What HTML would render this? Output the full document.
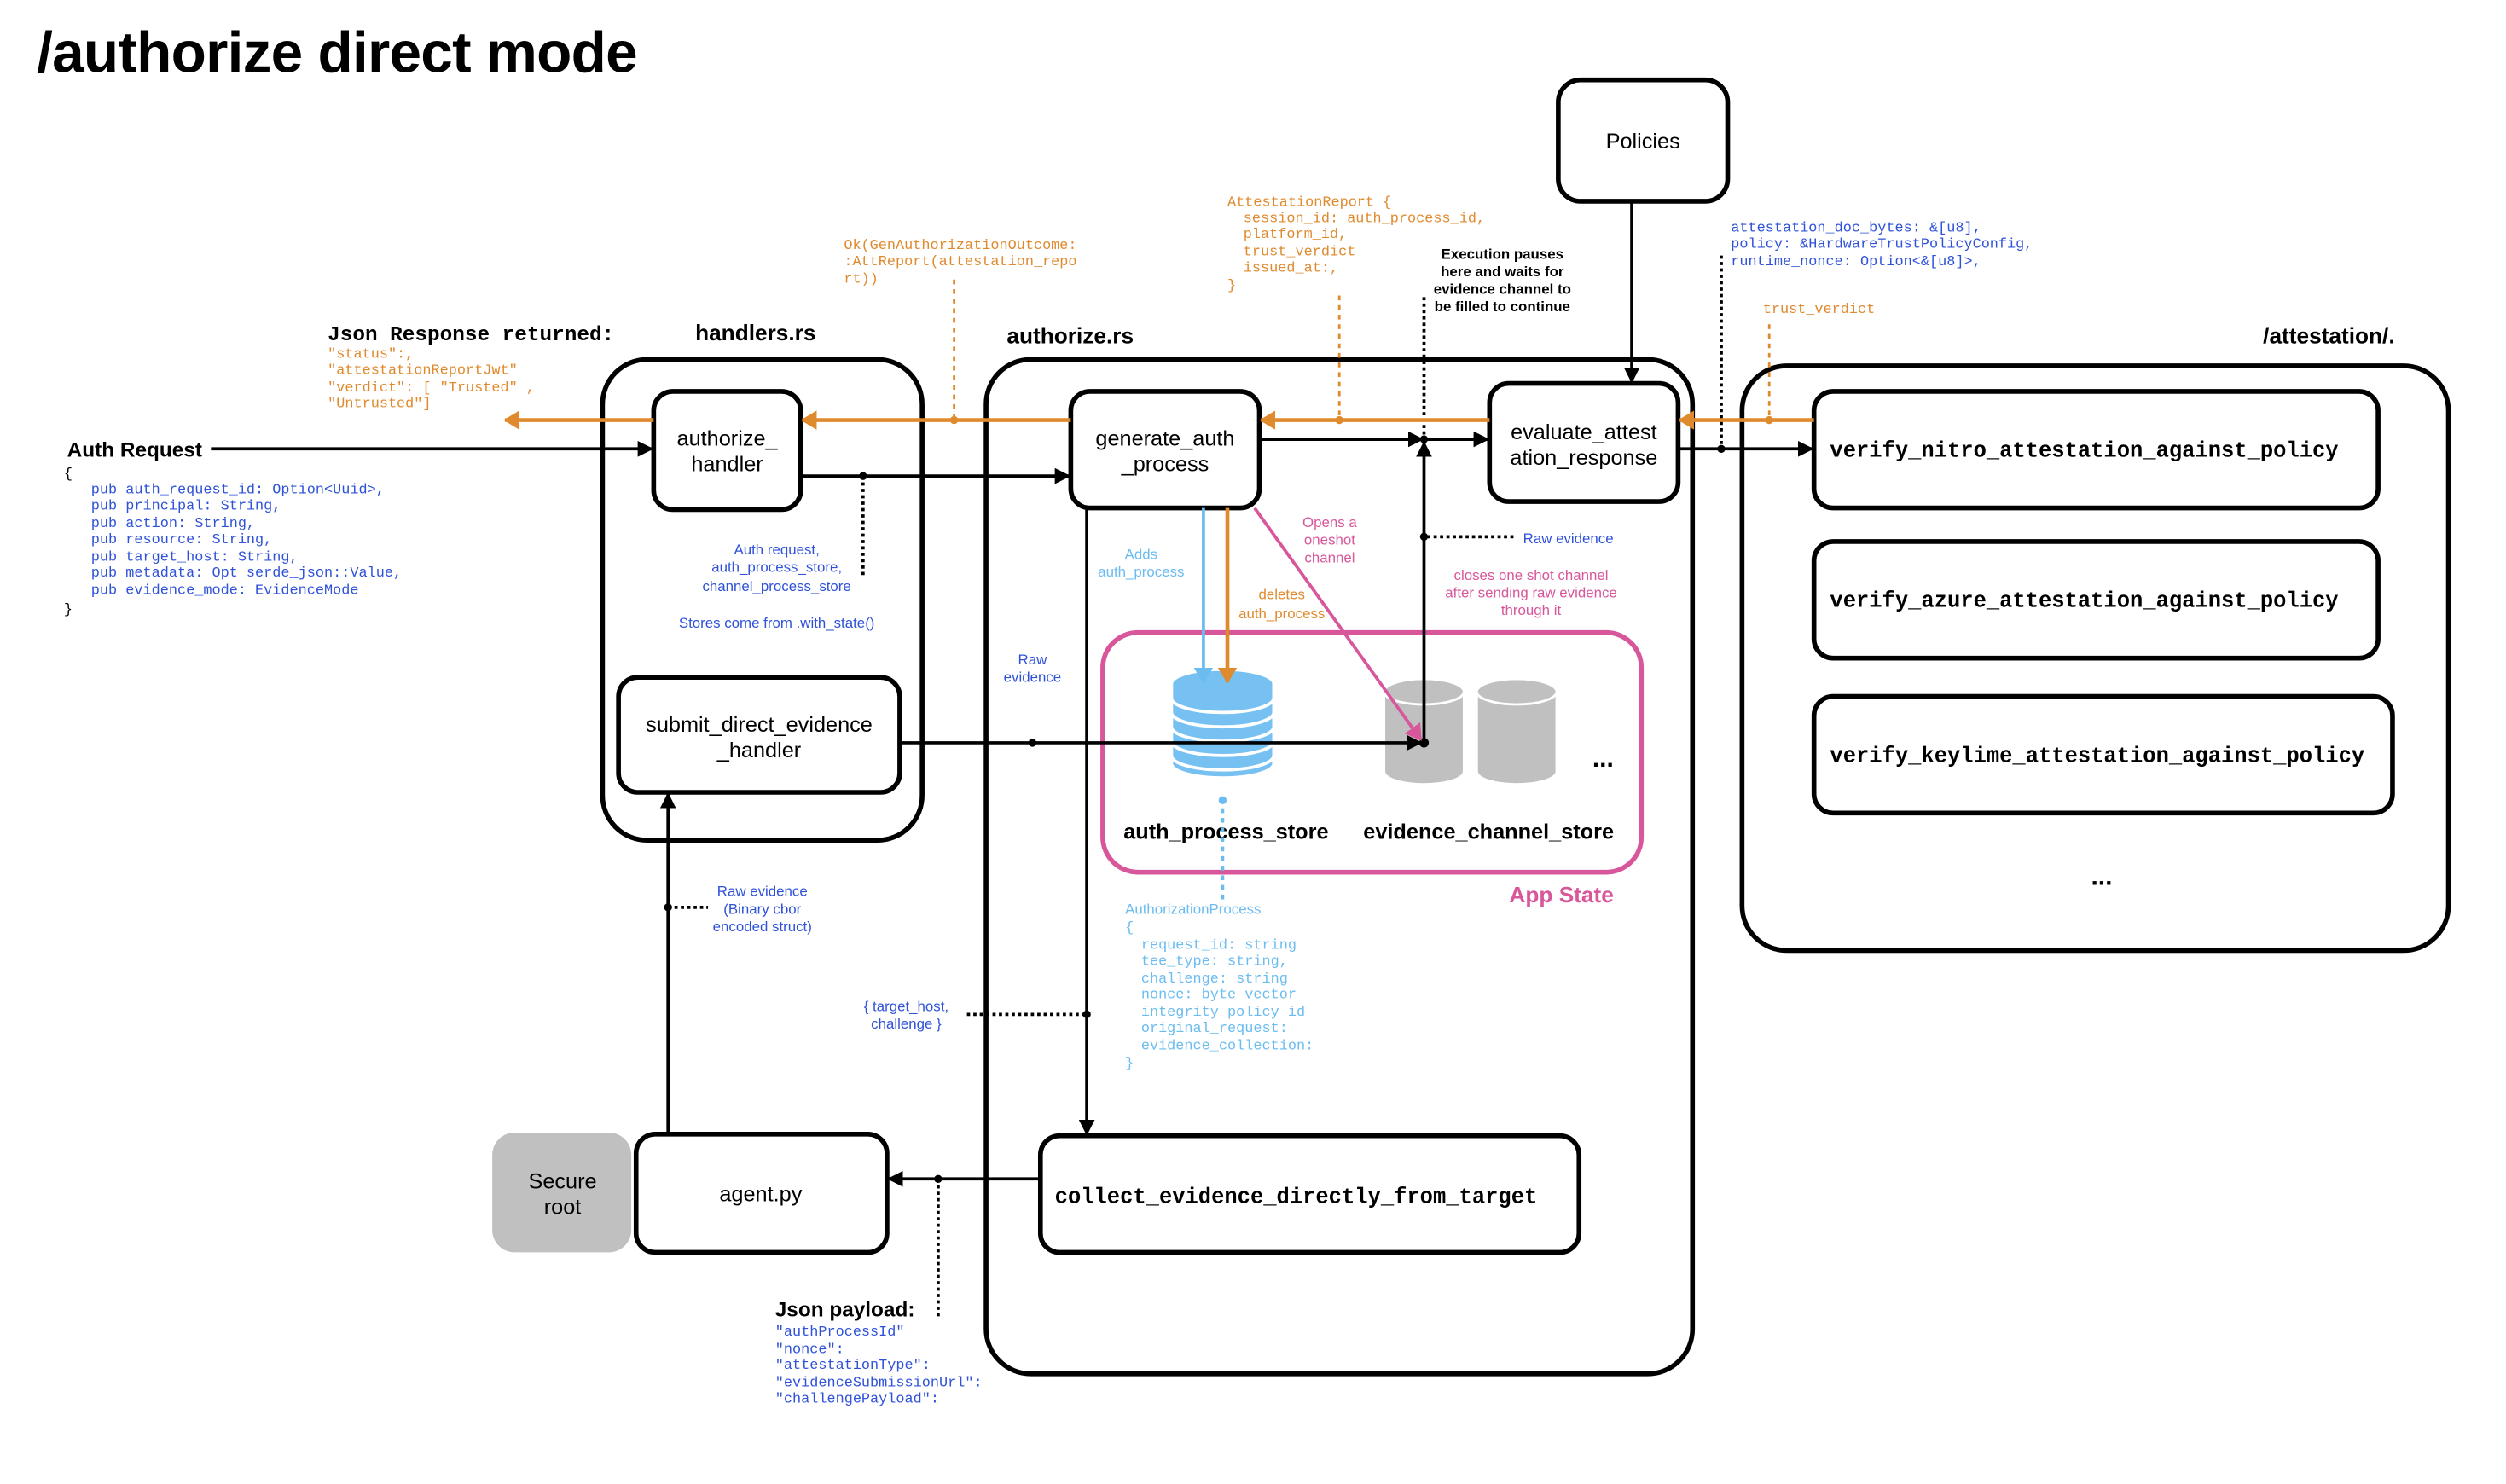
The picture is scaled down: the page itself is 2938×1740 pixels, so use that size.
<!DOCTYPE html>
<html><head><meta charset="utf-8"><style>
html,body{margin:0;padding:0;background:#fff;}
svg{display:block;font-family:"Liberation Sans",sans-serif;}
.m, .m text{font-family:"Liberation Mono",monospace;font-size:9px;}
.mb, .mb text{font-family:"Liberation Mono",monospace;font-size:13.6px;font-weight:bold;}
.b{fill:#2f52d9;}
.o{fill:#e08a2e;}
.p{fill:#d8569a;}
.lb{fill:#6bbcf0;}
.lbl{font-size:9px;}
</style></head><body>
<svg width="2938" height="1740" viewBox="0 0 1568 929" preserveAspectRatio="none" xmlns="http://www.w3.org/2000/svg">
<defs>
<marker id="ak" markerWidth="10" markerHeight="10" refX="9" refY="5" orient="auto" markerUnits="userSpaceOnUse"><path d="M0,0 L10,5 L0,10 z" fill="#000"/></marker>
<marker id="ao" markerWidth="10" markerHeight="12" refX="9" refY="6" orient="auto" markerUnits="userSpaceOnUse"><path d="M0,0 L10,6 L0,12 z" fill="#e08a2e"/></marker>
<marker id="ab" markerWidth="10" markerHeight="12" refX="9" refY="6" orient="auto" markerUnits="userSpaceOnUse"><path d="M0,0 L10,6 L0,12 z" fill="#6bbcf0"/></marker>
<marker id="ap" markerWidth="10" markerHeight="12" refX="9" refY="6" orient="auto" markerUnits="userSpaceOnUse"><path d="M0,0 L10,6 L0,12 z" fill="#d8569a"/></marker>
</defs>
<rect width="1568" height="929" fill="#fff"/>
<text x="23" y="45" font-size="36" font-weight="bold" textLength="376">/authorize direct mode</text>

<g fill="none" stroke="#000" stroke-width="3">
<rect x="377" y="225" width="200" height="301" rx="28"/>
<rect x="617" y="225" width="442" height="635" rx="28"/>
<rect x="1090" y="229" width="442" height="366" rx="28"/>
<rect x="409" y="245" width="92" height="74" rx="12"/>
<rect x="387" y="424" width="176" height="72" rx="12"/>
<rect x="670" y="245" width="118" height="73" rx="12"/>
<rect x="932" y="240" width="118" height="74" rx="12"/>
<rect x="975" y="50" width="106" height="76" rx="14"/>
<rect x="651" y="711" width="337" height="73" rx="12"/>
<rect x="398" y="710" width="157" height="74" rx="12"/>
<rect x="1135" y="245" width="353" height="73" rx="12"/>
<rect x="1135" y="339" width="353" height="73" rx="12"/>
<rect x="1135" y="436" width="362" height="73" rx="12"/>
</g>
<rect x="308" y="709" width="87" height="75" rx="14" fill="#c0c0c0"/>
<rect x="690" y="396" width="337" height="150" rx="22" fill="none" stroke="#d8569a" stroke-width="3"/>

<text x="435" y="213" font-size="14" font-weight="bold">handlers.rs</text>
<text x="630" y="215" font-size="14" font-weight="bold">authorize.rs</text>
<text x="1416" y="215" font-size="14" font-weight="bold">/attestation/.</text>
<text x="977" y="565" font-size="14" font-weight="bold" class="p" text-anchor="middle">App State</text>

<g font-size="13.5" text-anchor="middle">
<text x="455" y="279">authorize_</text><text x="455" y="295">handler</text>
<text x="475" y="458">submit_direct_evidence</text><text x="475" y="474">_handler</text>
<text x="729" y="279">generate_auth</text><text x="729" y="295">_process</text>
<text x="991" y="275">evaluate_attest</text><text x="991" y="291">ation_response</text>
<text x="1028" y="93">Policies</text>
<text x="352" y="744">Secure</text><text x="352" y="760">root</text>
<text x="476" y="752">agent.py</text>
</g>
<g class="mb">
<text x="660" y="753">collect_evidence_directly_from_target</text>
<text x="1145" y="286">verify_nitro_attestation_against_policy</text>
<text x="1145" y="380">verify_azure_attestation_against_policy</text>
<text x="1145" y="477">verify_keylime_attestation_against_policy</text>
</g>
<text x="1003" y="480" font-size="16" font-weight="bold" text-anchor="middle">...</text>
<text x="1315" y="554" font-size="16" font-weight="bold" text-anchor="middle">...</text>

<g fill="#76c1f2" stroke="#fff" stroke-width="2">
<path d="M733,478 v-50 a32,9 0 0 1 64,0 v50 a32,9 0 0 1 -64,0z"/>
<path d="M733,437 a32,9 0 0 0 64,0" fill="none"/>
<path d="M733,446 a32,9 0 0 0 64,0" fill="none"/>
<path d="M733,455 a32,9 0 0 0 64,0" fill="none"/>
<path d="M733,464 a32,9 0 0 0 64,0" fill="none"/>
<path d="M733,473 a32,9 0 0 0 64,0" fill="none"/>
</g>
<g fill="#c0c0c0" stroke="#fff" stroke-width="1.5">
<path d="M866,483 v-50 a25,8 0 0 1 50,0 v50 a25,8 0 0 1 -50,0z"/>
<path d="M866,433 a25,8 0 0 0 50,0" fill="none"/>
<path d="M924,483 v-50 a25,8 0 0 1 50,0 v50 a25,8 0 0 1 -50,0z"/>
<path d="M924,433 a25,8 0 0 0 50,0" fill="none"/>
</g>
<g font-size="13.5" font-weight="bold">
<text x="703" y="525">auth_process_store</text>
<text x="853" y="525">evidence_channel_store</text>
</g>

<g stroke="#000" stroke-width="2" fill="none">
<line x1="132" y1="281" x2="408" y2="281" marker-end="url(#ak)"/>
<line x1="501" y1="298" x2="669" y2="298" marker-end="url(#ak)"/>
<line x1="788" y1="275" x2="890" y2="275" marker-end="url(#ak)"/>
<line x1="891" y1="275" x2="931" y2="275" marker-end="url(#ak)"/>
<line x1="891" y1="465" x2="891" y2="277" marker-end="url(#ak)"/>
<line x1="1050" y1="281" x2="1134" y2="281" marker-end="url(#ak)"/>
<line x1="1021" y1="126" x2="1021" y2="239" marker-end="url(#ak)"/>
<line x1="563" y1="465" x2="889" y2="465" marker-end="url(#ak)"/>
<line x1="680" y1="318" x2="680" y2="710" marker-end="url(#ak)"/>
<line x1="651" y1="738" x2="556" y2="738" marker-end="url(#ak)"/>
<line x1="418" y1="710" x2="418" y2="497" marker-end="url(#ak)"/>
</g>
<g stroke="#000" stroke-width="2" fill="none" stroke-dasharray="2,2">
<line x1="540" y1="298" x2="540" y2="360"/>
<line x1="891" y1="186" x2="891" y2="275"/>
<line x1="893" y1="336" x2="948" y2="336"/>
<line x1="1077" y1="160" x2="1077" y2="281"/>
<line x1="605" y1="635" x2="680" y2="635"/>
<line x1="587" y1="738" x2="587" y2="825"/>
<line x1="418" y1="568" x2="443" y2="568"/>
</g>
<g fill="#000">
<circle cx="540" cy="298" r="2.5"/><circle cx="891" cy="275" r="2.5"/><circle cx="891" cy="336" r="2.5"/>
<circle cx="1077" cy="281" r="2.5"/><circle cx="680" cy="635" r="2.5"/><circle cx="587" cy="738" r="2.5"/>
<circle cx="418" cy="568" r="2.5"/><circle cx="646" cy="465" r="2.5"/><circle cx="891" cy="465" r="3"/>
</g>
<g stroke="#e08a2e" stroke-width="2.5" fill="none">
<line x1="409" y1="263" x2="316" y2="263" marker-end="url(#ao)"/>
<line x1="670" y1="263" x2="502" y2="263" marker-end="url(#ao)"/>
<line x1="932" y1="263" x2="789" y2="263" marker-end="url(#ao)"/>
<line x1="1135" y1="263" x2="1051" y2="263" marker-end="url(#ao)"/>
<line x1="768" y1="318" x2="768" y2="427" marker-end="url(#ao)"/>
</g>
<g stroke="#e08a2e" stroke-width="1.5" stroke-dasharray="3,3">
<line x1="597" y1="175" x2="597" y2="263"/>
<line x1="838" y1="185" x2="838" y2="263"/>
<line x1="1107" y1="203" x2="1107" y2="263"/>
</g>
<g fill="#e08a2e"><circle cx="597" cy="263" r="2.5"/><circle cx="838" cy="263" r="2.5"/><circle cx="1107" cy="263" r="2.5"/></g>
<line x1="753" y1="318" x2="753" y2="427" stroke="#6bbcf0" stroke-width="2" marker-end="url(#ab)"/>
<line x1="765" y1="500" x2="765" y2="566" stroke="#6bbcf0" stroke-width="2" stroke-dasharray="3,3"/>
<circle cx="765" cy="501" r="2.5" fill="#6bbcf0"/>
<line x1="785" y1="318" x2="889" y2="463" stroke="#d8569a" stroke-width="2" marker-end="url(#ap)"/>

<text x="42" y="286" font-size="13" font-weight="bold">Auth Request</text>
<g class="m b">
<text x="40" y="299" fill="#000">{</text>
<text x="57" y="309">pub auth_request_id: Option&lt;Uuid&gt;,</text>
<text x="57" y="319">pub principal: String,</text>
<text x="57" y="330">pub action: String,</text>
<text x="57" y="340">pub resource: String,</text>
<text x="57" y="351">pub target_host: String,</text>
<text x="57" y="361">pub metadata: Opt serde_json::Value,</text>
<text x="57" y="372">pub evidence_mode: EvidenceMode</text>
<text x="40" y="384" fill="#000">}</text>
</g>
<text x="205" y="213" class="mb" style="font-size:13px">Json Response returned:</text>
<g class="m o">
<text x="205" y="224">"status":,</text>
<text x="205" y="234">"attestationReportJwt"</text>
<text x="205" y="245">"verdict": [ "Trusted" ,</text>
<text x="205" y="255">"Untrusted"]</text>
<text x="528" y="156">Ok(GenAuthorizationOutcome:</text>
<text x="528" y="166">:AttReport(attestation_repo</text>
<text x="528" y="177">rt))</text>
<text x="768" y="129">AttestationReport {</text>
<text x="778" y="139">session_id: auth_process_id,</text>
<text x="778" y="149">platform_id,</text>
<text x="778" y="160">trust_verdict</text>
<text x="778" y="170">issued_at:,</text>
<text x="768" y="181">}</text>
<text x="1103" y="196">trust_verdict</text>
</g>
<g class="m b">
<text x="1083" y="145">attestation_doc_bytes: &amp;[u8],</text>
<text x="1083" y="155">policy: &amp;HardwareTrustPolicyConfig,</text>
<text x="1083" y="166">runtime_nonce: Option&lt;&amp;[u8]&gt;,</text>
</g>
<g font-size="9" font-weight="bold" text-anchor="middle">
<text x="940" y="162">Execution pauses</text>
<text x="940" y="173">here and waits for</text>
<text x="940" y="184">evidence channel to</text>
<text x="940" y="195">be filled to continue</text>
</g>
<g class="lbl b" text-anchor="middle">
<text x="486" y="347">Auth request,</text>
<text x="486" y="358">auth_process_store,</text>
<text x="486" y="370">channel_process_store</text>
<text x="486" y="393">Stores come from .with_state()</text>
<text x="646" y="416">Raw</text><text x="646" y="427">evidence</text>
<text x="477" y="561">Raw evidence</text>
<text x="477" y="572">(Binary cbor</text>
<text x="477" y="583">encoded struct)</text>
<text x="567" y="633">{ target_host,</text>
<text x="567" y="644">challenge }</text>
</g>
<text x="953" y="340" class="lbl b">Raw evidence</text>
<g class="lbl lb" text-anchor="middle"><text x="714" y="350">Adds</text><text x="714" y="361">auth_process</text></g>
<g class="lbl o" text-anchor="middle"><text x="802" y="375">deletes</text><text x="802" y="387">auth_process</text></g>
<g class="lbl p" text-anchor="middle">
<text x="832" y="330">Opens a</text><text x="832" y="341">oneshot</text><text x="832" y="352">channel</text>
<text x="958" y="363">closes one shot channel</text>
<text x="958" y="374">after sending raw evidence</text>
<text x="958" y="385">through it</text>
</g>
<text x="704" y="572" class="lbl lb">AuthorizationProcess</text>
<g class="m lb">
<text x="704" y="583">{</text>
<text x="714" y="594">request_id: string</text>
<text x="714" y="604">tee_type: string,</text>
<text x="714" y="615">challenge: string</text>
<text x="714" y="625">nonce: byte vector</text>
<text x="714" y="636">integrity_policy_id</text>
<text x="714" y="646">original_request:</text>
<text x="714" y="657">evidence_collection:</text>
<text x="704" y="668">}</text>
</g>
<text x="485" y="824" font-size="13" font-weight="bold">Json payload:</text>
<g class="m b">
<text x="485" y="836">"authProcessId"</text>
<text x="485" y="847">"nonce":</text>
<text x="485" y="857">"attestationType":</text>
<text x="485" y="868">"evidenceSubmissionUrl":</text>
<text x="485" y="878">"challengePayload":</text>
</g>
</svg>
</body></html>
